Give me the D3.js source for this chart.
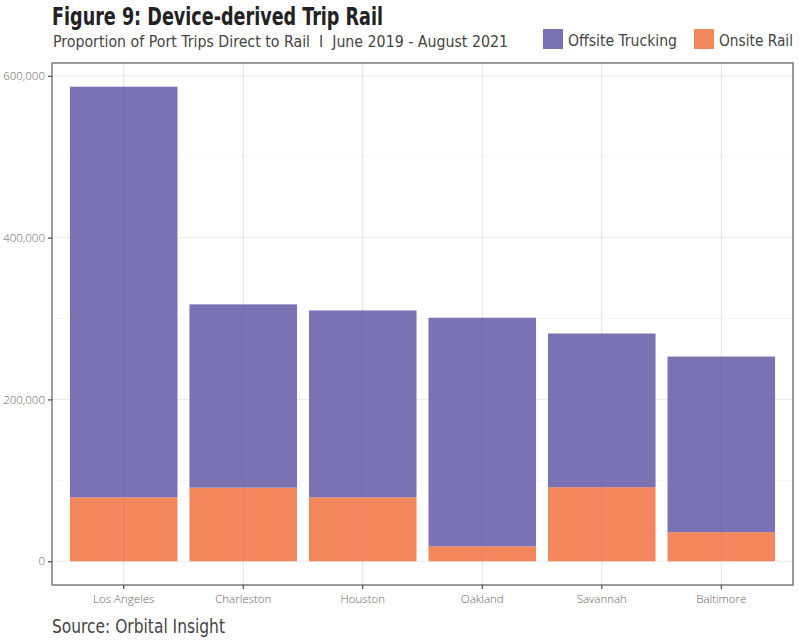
<!DOCTYPE html>
<html>
<head>
<meta charset="utf-8">
<script src="https://cdn.jsdelivr.net/npm/d3@7"></script>
<style>
  body { margin: 0; background: #fff; }
  svg { display: block; }
</style>
</head>
<body>
<div id="chart"></div>
<script>
// data
const ports = ["Los Angeles", "Charleston", "Houston", "Oakland", "Savannah", "Baltimore"];
const onsiteRail = [79000, 91000, 79000, 18500, 91500, 36000];
const offsiteTrucking = [507500, 226500, 231000, 282500, 190000, 217000];
const seriesNames = ["Offsite Trucking", "Onsite Rail"];
const yTicks = [0, 200000, 400000, 600000];
const yMinorTicks = [100000, 300000, 500000];

const width = 800, height = 640;
const margin = { top: 63, right: 7, bottom: 55, left: 52 };
const colors = { "Offsite Trucking": "#7a72b3", "Onsite Rail": "#f2875d" };
const narrow = "'DejaVu Sans Condensed', 'Liberation Sans Narrow', sans-serif";

const svg = d3.select("#chart").append("svg")
    .attr("width", width)
    .attr("height", height);

const rows = ports.map((p, i) => ({
    port: p,
    "Onsite Rail": onsiteRail[i],
    "Offsite Trucking": offsiteTrucking[i]
}));

// rail sits at the bottom, trucking on top
const stack = d3.stack().keys(["Onsite Rail", "Offsite Trucking"]);
const layers = stack(rows);

const maxTotal = d3.max(rows, d => d["Onsite Rail"] + d["Offsite Trucking"]);

const x = d3.scaleBand()
    .domain(ports)
    .range([margin.left, width - margin.right])
    .paddingInner(0.1)
    .paddingOuter(0.15);

const y = d3.scaleLinear()
    .domain([-maxTotal * 0.05, maxTotal * 1.05])
    .range([height - margin.bottom, margin.top]);

const plot = svg.append("g");

// grid
plot.append("g").selectAll("line.minor")
    .data(yMinorTicks)
    .join("line")
    .attr("x1", margin.left).attr("x2", width - margin.right)
    .attr("y1", d => y(d)).attr("y2", d => y(d))
    .attr("stroke", "#f2f2f2").attr("stroke-width", 0.6);

plot.append("g").selectAll("line.major")
    .data(yTicks)
    .join("line")
    .attr("x1", margin.left).attr("x2", width - margin.right)
    .attr("y1", d => y(d)).attr("y2", d => y(d))
    .attr("stroke", "#ebebeb").attr("stroke-width", 1);

plot.append("g").selectAll("line.vgrid")
    .data(ports)
    .join("line")
    .attr("x1", d => x(d) + x.bandwidth() / 2).attr("x2", d => x(d) + x.bandwidth() / 2)
    .attr("y1", margin.top).attr("y2", height - margin.bottom)
    .attr("stroke", "#ebebeb").attr("stroke-width", 1);

// bars
plot.append("g").selectAll("g")
    .data(layers)
    .join("g")
    .attr("fill", d => colors[d.key])
    .selectAll("rect")
    .data(d => d)
    .join("rect")
    .attr("x", d => x(d.data.port))
    .attr("width", x.bandwidth())
    .attr("y", d => y(d[1]))
    .attr("height", d => y(d[0]) - y(d[1]));

// faint grid showing through the bars
plot.append("g").selectAll("line")
    .data(ports)
    .join("line")
    .attr("x1", d => x(d) + x.bandwidth() / 2).attr("x2", d => x(d) + x.bandwidth() / 2)
    .attr("y1", margin.top).attr("y2", height - margin.bottom)
    .attr("stroke", "#000").attr("stroke-opacity", 0.04);

// panel border
svg.append("rect")
    .attr("x", margin.left).attr("y", margin.top)
    .attr("width", width - margin.left - margin.right)
    .attr("height", height - margin.top - margin.bottom)
    .attr("fill", "none")
    .attr("stroke", "#6b6466")
    .attr("stroke-width", 1.3);

// axes
const yAxis = svg.append("g")
    .attr("transform", `translate(${margin.left},0)`)
    .call(d3.axisLeft(y).tickValues(yTicks).tickSize(4).tickPadding(3)
        .tickFormat(d3.format(",")));

const xAxis = svg.append("g")
    .attr("transform", `translate(0,${height - margin.bottom})`)
    .call(d3.axisBottom(x).tickSize(4).tickPadding(6));

[yAxis, xAxis].forEach(a => {
    a.select(".domain").remove();
    a.selectAll(".tick line").attr("stroke", "#4d4647").attr("stroke-width", 1.2);
    a.selectAll(".tick text")
        .attr("fill", "#6a6466")
        .style("font-family", "'Open Sans', sans-serif")
        .style("font-size", "11.5px")
        .style("font-weight", 300);
});

// title and subtitle, squeezed to the condensed widths of the original
svg.append("text")
    .attr("x", 52).attr("y", 25)
    .attr("textLength", 331).attr("lengthAdjust", "spacingAndGlyphs")
    .style("font-family", narrow)
    .style("font-weight", "bold")
    .style("font-size", "24px")
    .attr("fill", "#222")
    .text("Figure 9: Device-derived Trip Rail");

svg.append("text")
    .attr("x", 53).attr("y", 47)
    .attr("textLength", 455).attr("lengthAdjust", "spacingAndGlyphs")
    .style("font-family", narrow)
    .style("font-size", "16.5px")
    .attr("fill", "#444")
    .text("Proportion of Port Trips Direct to Rail\u00a0\u00a0I\u00a0\u00a0June 2019 - August 2021");

// legend
const legendX = [543, 694];
const legendTextW = [109, 74];
seriesNames.forEach((name, i) => {
    const g = svg.append("g").attr("transform", `translate(${legendX[i]},29)`);
    g.append("rect")
        .attr("width", 20).attr("height", 20)
        .attr("fill", colors[name]);
    g.append("text")
        .attr("x", 25).attr("y", 17)
        .attr("textLength", legendTextW[i]).attr("lengthAdjust", "spacingAndGlyphs")
        .style("font-family", narrow)
        .style("font-size", "16.5px")
        .attr("fill", "#444")
        .text(name);
});

// source
svg.append("text")
    .attr("x", 52).attr("y", 633)
    .attr("textLength", 173).attr("lengthAdjust", "spacingAndGlyphs")
    .style("font-family", narrow)
    .style("font-size", "19px")
    .attr("fill", "#444")
    .text("Source: Orbital Insight");
</script>
</body>
</html>
